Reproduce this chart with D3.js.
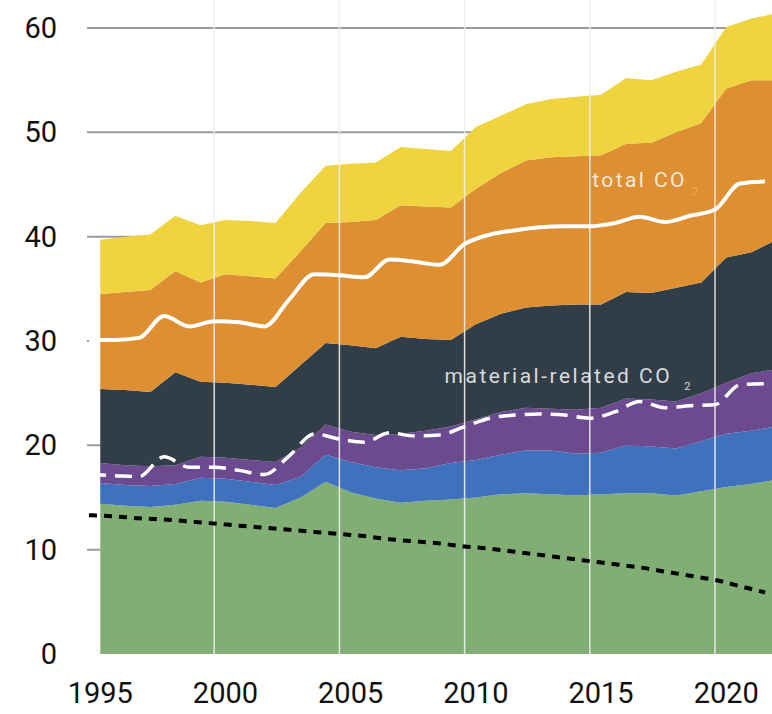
<!DOCTYPE html>
<html>
<head>
<meta charset="utf-8">
<script src="https://cdn.jsdelivr.net/npm/d3@7"></script>
<style>
body { margin: 0; background: #fff; }
text { font-family: Roboto, "Noto Sans", sans-serif; }
</style>
</head>
<body>
<svg id="chart" width="772" height="714"></svg>
<script>
// years of the series
var years = [1995, 1996, 1997, 1998, 1999, 2000, 2001, 2002, 2003, 2004, 2005, 2006, 2007, 2008,
	2009, 2010, 2011, 2012, 2013, 2014, 2015, 2016, 2017, 2018, 2019, 2020, 2021, 2022];

// stacked layers, bottom to top
var greenLayer = [14.4, 14.2, 14.1, 14.3, 14.7, 14.6, 14.3, 14.0, 15.0, 16.5, 15.5, 14.9, 14.5, 14.7,
	14.8, 15.0, 15.3, 15.4, 15.3, 15.2, 15.3, 15.4, 15.4, 15.2, 15.6, 16.0, 16.3, 16.7];
var blueLayer = [2.0, 2.0, 2.0, 2.0, 2.2, 2.2, 2.2, 2.2, 2.0, 2.6, 2.9, 3.0, 3.1, 3.1,
	3.5, 3.6, 3.8, 4.1, 4.2, 4.0, 4.0, 4.6, 4.5, 4.5, 4.8, 5.1, 5.1, 5.1];
var purpleLayer = [1.9, 1.9, 1.9, 1.8, 2.0, 2.0, 2.1, 2.2, 2.8, 2.9, 2.9, 3.1, 3.5, 3.6,
	3.5, 3.9, 4.1, 4.1, 4.0, 4.2, 4.3, 4.5, 4.5, 4.5, 4.6, 4.9, 5.5, 5.5];
var slateLayer = [7.1, 7.2, 7.1, 8.9, 7.2, 7.2, 7.2, 7.2, 7.9, 7.8, 8.3, 8.3, 9.3, 8.8,
	8.3, 9.1, 9.4, 9.6, 9.9, 10.1, 9.9, 10.2, 10.2, 10.9, 10.6, 12.0, 11.6, 12.4];
var orangeLayer = [9.1, 9.4, 9.8, 9.7, 9.5, 10.4, 10.4, 10.4, 10.9, 11.5, 11.8, 12.3, 12.6, 12.7,
	12.7, 13.0, 13.5, 14.1, 14.2, 14.2, 14.3, 14.2, 14.4, 14.9, 15.3, 16.2, 16.5, 15.3];
var yellowLayer = [5.2, 5.3, 5.3, 5.3, 5.5, 5.2, 5.3, 5.3, 5.6, 5.5, 5.6, 5.5, 5.6, 5.5,
	5.4, 5.9, 5.5, 5.4, 5.6, 5.7, 5.8, 6.3, 6.0, 5.8, 5.6, 5.9, 5.9, 6.4];

// lines
var totalCO2 = [30.1, 30.1, 30.3, 32.4, 31.4, 31.9, 31.8, 31.4, 34.0, 36.4, 36.3, 36.1, 37.8, 37.6,
	37.3, 39.3, 40.2, 40.6, 40.9, 41.0, 41.0, 41.3, 41.9, 41.4, 42.0, 42.6, 45.1, 45.3];
var materialCO2 = [17.2, 17.1, 17.0, 18.9, 17.9, 17.9, 17.6, 17.2, 19.0, 21.1, 20.6, 20.3, 21.2, 20.9,
	21.0, 21.8, 22.6, 22.9, 23.0, 22.9, 22.6, 23.2, 24.2, 23.6, 23.8, 23.9, 25.8, 25.9];
var blackDashed = [13.3, 13.2, 13.0, 12.9, 12.7, 12.5, 12.3, 12.1, 11.9, 11.7, 11.5, 11.3, 11.0, 10.8,
	10.6, 10.3, 10.1, 9.8, 9.5, 9.2, 8.9, 8.6, 8.3, 7.9, 7.5, 7.1, 6.5, 5.9];

var layerKeys = ['green', 'blue', 'purple', 'slate', 'orange', 'yellow'];
var layerColors = ['#80ae75', '#3f71bc', '#6c4a8f', '#323e47', '#dd8f32', '#efd43f'];
var yTicks = [0, 10, 20, 30, 40, 50, 60];
var xTicks = [1995, 2000, 2005, 2010, 2015, 2020];
var vLines = [2000, 2005, 2010, 2015, 2020];

var rows = years.map(function (yr, i) {
	return {
		year: yr, green: greenLayer[i], blue: blueLayer[i], purple: purpleLayer[i],
		slate: slateLayer[i], orange: orangeLayer[i], yellow: yellowLayer[i]
	};
});

var svg = d3.select('#chart');

// grid lines sit on the years, areas and year labels a bit to the right
var x = d3.scaleLinear().domain([1995, 2020]).range([89, 715]);
var areaShift = 0.45;
var y = d3.scaleLinear().domain([0, 60]).range([654, 28]);

// horizontal grid, behind the areas
svg.append('g').selectAll('line')
	.data(yTicks.filter(function (d) { return d > 0; }))
	.enter().append('line')
	.attr('x1', x(1995) - 2).attr('x2', 772)
	.attr('y1', function (d) { return y(d); })
	.attr('y2', function (d) { return y(d); })
	.attr('stroke', '#9b9b9b')
	.attr('stroke-width', 2);

var stack = d3.stack().keys(layerKeys);
var series = stack(rows);

var area = d3.area()
	.x(function (d) { return x(d.data.year + areaShift); })
	.y0(function (d) { return y(d[0]); })
	.y1(function (d) { return y(d[1]); });

svg.append('g').selectAll('path')
	.data(series)
	.enter().append('path')
	.attr('d', area)
	.attr('fill', function (d, i) { return layerColors[i]; });

// annotations
var totalLabel = svg.append('text')
	.attr('x', x(2015.1)).attr('y', y(44.8))
	.attr('font-size', 21).attr('letter-spacing', 2.4)
	.attr('fill', 'rgba(255,255,255,0.8)');
totalLabel.append('tspan').text('total CO');
totalLabel.append('tspan').text('2')
	.attr('font-size', 11).attr('dx', 5).attr('dy', 8)
	.attr('fill', '#f2b43a');

var materialLabel = svg.append('text')
	.attr('x', x(2009.2)).attr('y', y(26.0))
	.attr('font-size', 21).attr('letter-spacing', 2.5)
	.attr('fill', 'rgba(255,255,255,0.82)');
materialLabel.append('tspan').text('material-related CO');
materialLabel.append('tspan').text('2')
	.attr('font-size', 11).attr('dx', 12).attr('dy', 7);

// vertical year lines over the areas
svg.append('g').selectAll('line')
	.data(vLines)
	.enter().append('line')
	.attr('x1', function (d) { return x(d); })
	.attr('x2', function (d) { return x(d); })
	.attr('y1', 0).attr('y2', y(0))
	.attr('stroke', 'rgba(238,238,238,0.9)')
	.attr('stroke-width', 1.5);

function lineOf(values) {
	return d3.line()
		.curve(d3.curveMonotoneX)
		.x(function (d, i) { return x(years[i]); })
		.y(function (d) { return y(d); })(values);
}

svg.append('path')
	.attr('d', lineOf(blackDashed))
	.attr('fill', 'none')
	.attr('stroke', '#000')
	.attr('stroke-width', 4)
	.attr('stroke-dasharray', '8,7');

svg.append('path')
	.attr('d', lineOf(materialCO2))
	.attr('fill', 'none')
	.attr('stroke', '#fff')
	.attr('stroke-width', 3.5)
	.attr('stroke-dasharray', '17,9');

svg.append('path')
	.attr('d', lineOf(totalCO2))
	.attr('fill', 'none')
	.attr('stroke', '#fff')
	.attr('stroke-width', 4);

// y axis labels
svg.append('g').selectAll('text')
	.data(yTicks)
	.enter().append('text')
	.attr('x', 57)
	.attr('y', function (d) { return y(d); })
	.attr('dy', '0.35em')
	.attr('text-anchor', 'end')
	.attr('font-size', 29)
	.attr('fill', '#111')
	.text(function (d) { return d; });

// x axis labels
svg.append('g').selectAll('text')
	.data(xTicks)
	.enter().append('text')
	.attr('x', function (d) { return x(d + areaShift); })
	.attr('y', 703)
	.attr('text-anchor', 'middle')
	.attr('font-size', 29)
	.attr('fill', '#111')
	.text(function (d) { return d; });
</script>
</body>
</html>
